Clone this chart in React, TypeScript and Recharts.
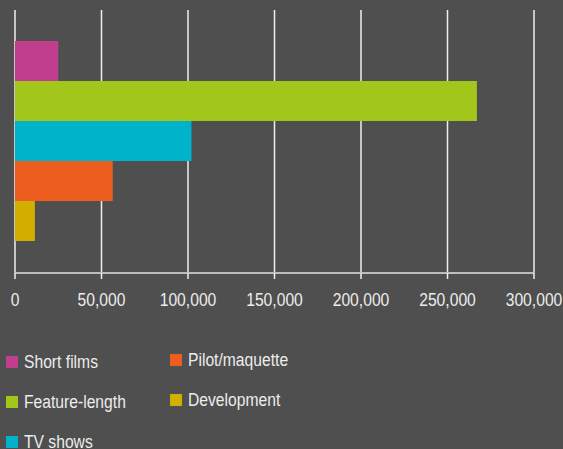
import { BarChart, Bar, XAxis, YAxis, CartesianGrid } from 'recharts';

const SERIES = ['Short films', 'Feature-length', 'TV shows', 'Pilot/maquette', 'Development'];
const VALUES = [25000, 267000, 102000, 56500, 11500];
const COLORS = ['#c13e8f', '#a3c61a', '#00b2ca', '#ec5d1e', '#d3ae00'];
const TICKS = [0, 50000, 100000, 150000, 200000, 250000, 300000];

const FONT = '"Liberation Sans", Arial, sans-serif';
const BG = '#4f4f4f';
const TEXT = '#ececec';
const SQUEEZE = 0.87; // the original uses a condensed face

const row: Record<string, number | string> = { name: 'all' };
SERIES.forEach((s, i) => {
  row[s] = VALUES[i];
});
const data = [row];

// legend laid out in two columns, filled top to bottom
const legendPos = [
  { x: 6, y: 0 },
  { x: 6, y: 40 },
  { x: 6, y: 80 },
  { x: 170, y: -2 },
  { x: 170, y: 38 },
];

const CondensedTick = (props: any) => {
  const { x, y, payload } = props;
  const label = Number(payload.value).toLocaleString('en-US');
  return (
    <text
      transform={`translate(${x},${y}) scale(${SQUEEZE},1)`}
      textAnchor="middle"
      dy="0.71em"
      fill={TEXT}
      fontSize={18}
      fontFamily={FONT}
    >
      {label}
    </text>
  );
};

export default function App() {
  return (
    <div style={{ position: 'fixed', left: 0, top: 0, width: 563, height: 449, background: BG, overflow: 'hidden' }}>
      <BarChart
        width={563}
        height={320}
        data={data}
        layout="vertical"
        margin={{ top: 10, right: 29, left: 15, bottom: 17 }}
        barCategoryGap={31}
        barGap={0}
      >
        <CartesianGrid horizontal={false} vertical stroke="#eeeeee" strokeWidth={1.5} />
        <XAxis
          type="number"
          domain={[0, 300000]}
          ticks={TICKS}
          interval={0}
          height={30}
          axisLine={{ stroke: '#bdbdbd', strokeWidth: 2 }}
          tickLine={{ stroke: '#eeeeee', strokeWidth: 1.5 }}
          tickSize={6}
          tickMargin={14}
          tick={<CondensedTick />}
        />
        <YAxis type="category" dataKey="name" hide />
        {SERIES.map((s, i) => (
          <Bar key={s} dataKey={s} fill={COLORS[i]} isAnimationActive={false} />
        ))}
      </BarChart>
      {SERIES.map((s, i) => (
        <div
          key={s}
          style={{
            position: 'absolute',
            left: legendPos[i].x,
            top: 350 + legendPos[i].y,
            display: 'flex',
            alignItems: 'center',
            height: 24,
            fontFamily: FONT,
            fontSize: 18,
            color: TEXT,
            whiteSpace: 'nowrap',
          }}
        >
          <span style={{ display: 'inline-block', width: 12, height: 12, background: COLORS[i], marginRight: 6 }} />
          <span style={{ display: 'inline-block', transform: `scaleX(${SQUEEZE})`, transformOrigin: 'left center' }}>{s}</span>
        </div>
      ))}
    </div>
  );
}
